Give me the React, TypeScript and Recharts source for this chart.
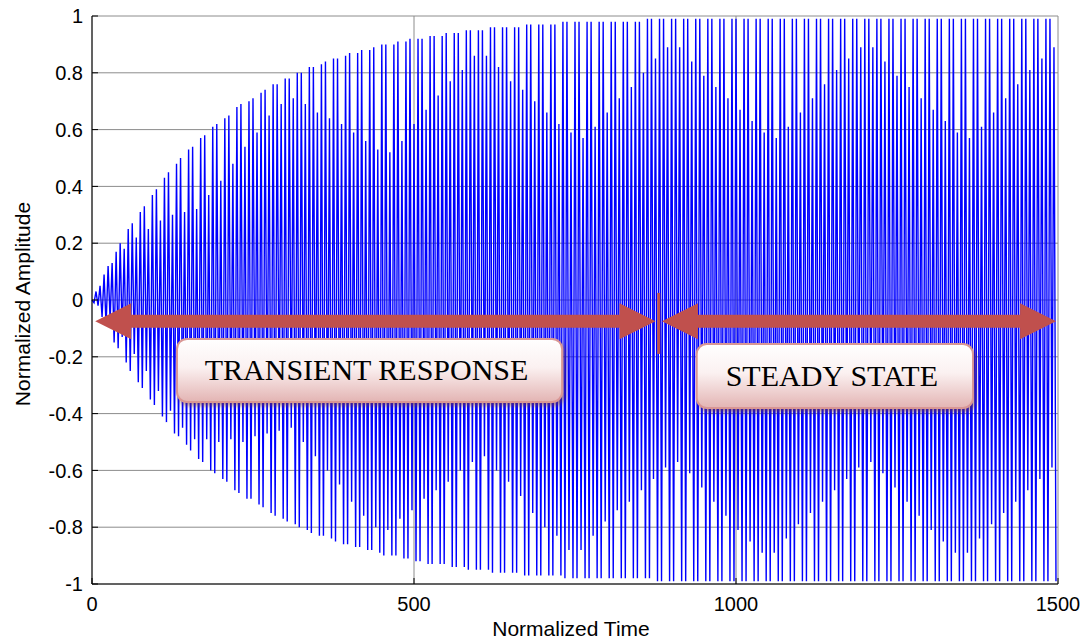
import { LineChart, Line, XAxis, YAxis, CartesianGrid } from 'recharts';

// peak value of each cycle (upper swing)
const topPeaks = [
  0.00, 0.03, 0.05, 0.09, 0.12, 0.13, 0.17, 0.20, 0.18, 0.25, 0.27, 0.22,
  0.31, 0.33, 0.25, 0.37, 0.39, 0.28, 0.43, 0.45, 0.30, 0.48, 0.50, 0.31,
  0.53, 0.54, 0.32, 0.57, 0.58, 0.37, 0.61, 0.62, 0.42, 0.64, 0.65, 0.48,
  0.68, 0.69, 0.54, 0.70, 0.71, 0.59, 0.73, 0.74, 0.65, 0.76, 0.76, 0.69,
  0.78, 0.78, 0.71, 0.80, 0.80, 0.69, 0.82, 0.82, 0.66, 0.83, 0.84, 0.64,
  0.85, 0.85, 0.62, 0.86, 0.87, 0.59, 0.87, 0.88, 0.56, 0.88, 0.89, 0.53,
  0.90, 0.90, 0.52, 0.90, 0.91, 0.56, 0.91, 0.92, 0.62, 0.92, 0.92, 0.67,
  0.93, 0.93, 0.72, 0.93, 0.94, 0.77, 0.94, 0.94, 0.81, 0.95, 0.95, 0.86,
  0.95, 0.95, 0.86, 0.96, 0.96, 0.82, 0.96, 0.96, 0.77, 0.96, 0.96, 0.74,
  0.97, 0.97, 0.70, 0.97, 0.97, 0.66, 0.97, 0.97, 0.62, 0.98, 0.98, 0.59,
  0.98, 0.98, 0.57, 0.98, 0.98, 0.61, 0.98, 0.98, 0.66, 0.98, 0.98, 0.71,
  0.98, 0.98, 0.75, 0.98, 0.98, 0.80, 0.99, 0.99, 0.85, 0.99, 0.99, 0.89,
  0.99, 0.99, 0.89, 0.99, 0.99, 0.84, 0.99, 0.99, 0.79, 0.99, 0.99, 0.75,
  0.99, 0.99, 0.71, 0.99, 0.99, 0.67, 0.99, 0.99, 0.63, 0.99, 0.99, 0.59,
  0.99, 0.99, 0.57, 0.99, 0.99, 0.61, 0.99, 0.99, 0.66, 0.99, 0.99, 0.71,
  0.99, 0.99, 0.76, 0.99, 0.99, 0.81, 0.99, 0.99, 0.85, 0.99, 0.99, 0.89,
  0.99, 0.99, 0.89, 0.99, 0.99, 0.84, 0.99, 0.99, 0.79, 0.99, 0.99, 0.75,
  0.99, 0.99, 0.71, 0.99, 0.99, 0.67, 0.99, 0.99, 0.63, 0.99, 0.99, 0.59,
  0.99, 0.99, 0.57, 0.99, 0.99, 0.61, 0.99, 0.99, 0.66, 0.99, 0.99, 0.71,
  0.99, 0.99, 0.76, 0.99, 0.99, 0.81, 0.99, 0.99, 0.85, 0.99, 0.99, 0.89,
];

// depth of each cycle's lower swing
const bottomPeaks = [
  0.01, 0.02, 0.06, 0.09, 0.07, 0.15, 0.17, 0.13, 0.22, 0.25, 0.19, 0.29,
  0.31, 0.25, 0.35, 0.37, 0.32, 0.41, 0.43, 0.39, 0.47, 0.48, 0.45, 0.51,
  0.53, 0.49, 0.56, 0.57, 0.49, 0.60, 0.61, 0.50, 0.63, 0.64, 0.49, 0.67,
  0.68, 0.50, 0.70, 0.70, 0.48, 0.72, 0.73, 0.47, 0.75, 0.76, 0.46, 0.77,
  0.78, 0.45, 0.79, 0.80, 0.50, 0.81, 0.82, 0.55, 0.83, 0.83, 0.60, 0.84,
  0.85, 0.65, 0.86, 0.86, 0.71, 0.87, 0.87, 0.76, 0.88, 0.88, 0.80, 0.89,
  0.90, 0.81, 0.90, 0.90, 0.77, 0.91, 0.91, 0.74, 0.92, 0.92, 0.70, 0.93,
  0.93, 0.67, 0.93, 0.93, 0.64, 0.94, 0.94, 0.60, 0.94, 0.95, 0.57, 0.95,
  0.95, 0.55, 0.95, 0.96, 0.60, 0.96, 0.96, 0.64, 0.96, 0.96, 0.69, 0.97,
  0.97, 0.75, 0.97, 0.97, 0.80, 0.97, 0.97, 0.83, 0.97, 0.98, 0.88, 0.98,
  0.98, 0.88, 0.98, 0.98, 0.83, 0.98, 0.98, 0.78, 0.98, 0.98, 0.74, 0.98,
  0.98, 0.71, 0.98, 0.98, 0.67, 0.98, 0.98, 0.63, 0.99, 0.99, 0.59, 0.99,
  0.99, 0.57, 0.99, 0.99, 0.61, 0.99, 0.99, 0.66, 0.99, 0.99, 0.71, 0.99,
  0.99, 0.76, 0.99, 0.99, 0.81, 0.99, 0.99, 0.85, 0.99, 0.99, 0.89, 0.99,
  0.99, 0.89, 0.99, 0.99, 0.84, 0.99, 0.99, 0.79, 0.99, 0.99, 0.75, 0.99,
  0.99, 0.71, 0.99, 0.99, 0.67, 0.99, 0.99, 0.63, 0.99, 0.99, 0.59, 0.99,
  0.99, 0.57, 0.99, 0.99, 0.61, 0.99, 0.99, 0.66, 0.99, 0.99, 0.71, 0.99,
  0.99, 0.76, 0.99, 0.99, 0.81, 0.99, 0.99, 0.85, 0.99, 0.99, 0.89, 0.99,
  0.99, 0.89, 0.99, 0.99, 0.84, 0.99, 0.99, 0.79, 0.99, 0.99, 0.75, 0.99,
  0.99, 0.71, 0.99, 0.99, 0.67, 0.99, 0.99, 0.63, 0.99, 0.99, 0.59, 0.99,
];

const cyclePeriod = 6.25; // normalized time per cycle
const xTicks = [0, 500, 1000, 1500];
const yTicks = [-1, -0.8, -0.6, -0.4, -0.2, 0, 0.2, 0.4, 0.6, 0.8, 1];

const signal = topPeaks.flatMap((top, i) => [
  { t: i * cyclePeriod, v: top },
  { t: i * cyclePeriod + cyclePeriod / 2, v: -bottomPeaks[i] },
]);

const W = 1092;
const H = 641;
const plot = { left: 92, right: 1058, top: 16, bottom: 584 };
const px = (t: number) => plot.left + (t / 1500) * (plot.right - plot.left);
const py = (v: number) => plot.top + ((1 - v) / 2) * (plot.bottom - plot.top);

const sans = '"Liberation Sans", Arial, sans-serif';
const serif = '"Liberation Serif", "Times New Roman", serif';
const arrowRed = '#C0504D';

function doubleArrow(t1: number, t2: number, v: number) {
  const x1 = px(t1);
  const x2 = px(t2);
  const y = py(v);
  const st = 6.5, hh = 18, hl = 36;
  const pts = [
    [x1, y], [x1 + hl, y - hh], [x1 + hl, y - st], [x2 - hl, y - st], [x2 - hl, y - hh],
    [x2, y], [x2 - hl, y + hh], [x2 - hl, y + st], [x1 + hl, y + st], [x1 + hl, y + hh],
  ];
  return <polygon points={pts.map(p => p.join(',')).join(' ')} fill={arrowRed} />;
}

function Callout({ t1, t2, v1, v2, text }: { t1: number; t2: number; v1: number; v2: number; text: string }) {
  const x = px(t1), y = py(v1);
  const w = px(t2) - x, h = py(v2) - y;
  return (
    <g>
      <rect x={x} y={y} width={w} height={h} rx={10} fill="url(#boxFill)" stroke="#D99694" strokeWidth={2} filter="url(#boxShadow)" />
      <text x={x + w / 2 - 3} y={y + h / 2 + 10} textAnchor="middle" fontFamily={serif} fontSize={30} fill="#000">{text}</text>
    </g>
  );
}

export default function App() {
  return (
    <div style={{ position: 'absolute', left: 0, top: 0, width: W, height: H, background: '#fff' }}>
      <LineChart width={W} height={H} data={signal} margin={{ top: 16, right: 34, bottom: 0, left: 0 }}>
        <CartesianGrid stroke="#8c8c8c" strokeWidth={1} horizontalValues={yTicks} verticalValues={xTicks} />
        <XAxis
          dataKey="t" type="number" domain={[0, 1500]} ticks={xTicks} height={57}
          axisLine={{ stroke: '#000' }} tickLine={{ stroke: '#000' }} tickSize={-6} tickMargin={19}
          tick={{ fontFamily: sans, fontSize: 20, fill: '#000' }}
        />
        <XAxis
          xAxisId="top" orientation="top" dataKey="t" type="number" domain={[0, 1500]} ticks={xTicks} height={0}
          axisLine={{ stroke: '#000' }} tickLine={{ stroke: '#000' }} tickSize={-6} tickFormatter={() => ''}
        />
        <YAxis
          type="number" domain={[-1, 1]} ticks={yTicks} width={92}
          axisLine={{ stroke: '#000' }} tickLine={{ stroke: '#000' }} tickSize={-6} tickMargin={15}
          tick={{ fontFamily: sans, fontSize: 20, fill: '#000' }}
        />
        <YAxis
          yAxisId="right" orientation="right" type="number" domain={[-1, 1]} ticks={yTicks} width={0}
          axisLine={{ stroke: '#000' }} tickLine={{ stroke: '#000' }} tickSize={-6} tickFormatter={() => ''}
        />
        <Line type="linear" dataKey="v" stroke="#0000FF" strokeWidth={1.4} dot={false} isAnimationActive={false} />
      </LineChart>
      <svg width={W} height={H} style={{ position: 'absolute', left: 0, top: 0, pointerEvents: 'none' }}>
        <defs>
          <linearGradient id="boxFill" x1="0" y1="0" x2="0" y2="1">
            <stop offset="0" stopColor="#ffffff" />
            <stop offset="0.45" stopColor="#fbf1f1" />
            <stop offset="1" stopColor="#e3b4b3" />
          </linearGradient>
          <filter id="boxShadow" x="-10%" y="-20%" width="120%" height="150%">
            <feDropShadow dx="2" dy="3" stdDeviation="2" floodColor="#7a3b39" floodOpacity="0.55" />
          </filter>
        </defs>
        {doubleArrow(5, 875, -0.075)}
        {doubleArrow(885, 1497, -0.075)}
        <line x1={px(880)} x2={px(880)} y1={py(0.025)} y2={py(-0.19)} stroke={arrowRed} strokeWidth={3} />
        <Callout t1={132} t2={730} v1={-0.137} v2={-0.359} text="TRANSIENT RESPONSE" />
        <Callout t1={939} t2={1368} v1={-0.155} v2={-0.38} text="STEADY STATE" />
        <text x={22} y={304} transform="rotate(-90 22 304)" textAnchor="middle" dominantBaseline="central" fontFamily={sans} fontSize={21} fill="#000">Normalized Amplitude</text>
        <text x={571} y={636} textAnchor="middle" fontFamily={sans} fontSize={21} fill="#000">Normalized Time</text>
      </svg>
    </div>
  );
}
